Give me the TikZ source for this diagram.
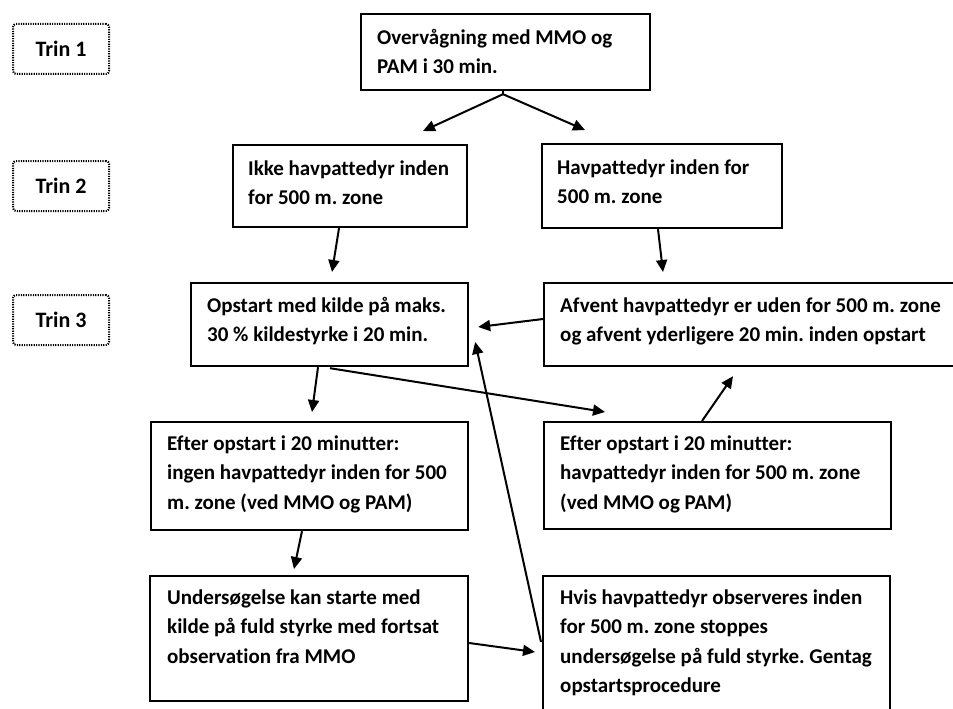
\documentclass[tikz,border=0pt]{standalone}
\usepackage{fontspec}
\setmainfont{Carlito}[Ligatures={NoCommon}]
\frenchspacing
\usetikzlibrary{arrows.meta,calc}
\tikzset{
  box/.style={draw, line width=2.2pt, rectangle, inner sep=0pt, anchor=north west},
  trinbox/.style={draw, line width=2pt, rectangle, rounded corners=3pt, inner sep=0pt,
    anchor=north west, dash pattern=on 1.2pt off 1.2pt, minimum width=96pt, minimum height=50pt,
    font=\fontsize{22}{24}\selectfont\bfseries},
  txt/.style={align=left, inner sep=0pt, anchor=north west,
    font=\fontsize{21}{29.5}\selectfont\bfseries},
  arr/.style={line width=2pt, -{Triangle[length=12pt,width=11pt]}}
}
\newcommand{\fs}{\rule{0pt}{17pt}}
\begin{document}
\begin{tikzpicture}[x=1pt,y=-1pt]
\useasboundingbox (0,0) rectangle (953,709);
\fill[white] (0,0) rectangle (953,709);
\clip (0,0) rectangle (953,709);

% Trin labels
\node[trinbox] (t1) at (12,23) {Trin 1\hspace{9pt}};
\node[trinbox] (t2) at (12,160) {Trin 2\hspace{9pt}};
\node[trinbox] (t3) at (12,294) {Trin 3\hspace{9pt}};

% boxes
\node[box, minimum width=289pt, minimum height=76pt] (top) at (360,13) {};
\node[txt] (topt) at ($(top.north west)+(17,14)$) {\fs Overvågning med MMO og\\PAM i 30 min.};

\node[box, minimum width=234pt, minimum height=82pt] (ikke) at (232,144) {};
\node[txt] (ikket) at ($(ikke.north west)+(16,14)$) {\fs Ikke havpattedyr inden\\for 500 m. zone};

\node[box, minimum width=240pt, minimum height=84pt] (hav) at (541,143) {};
\node[txt] (havt) at ($(hav.north west)+(16,14)$) {\fs Havpattedyr inden for\\500 m. zone};

\node[box, minimum width=277pt, minimum height=83pt] (opst) at (190,282) {};
\node[txt] (opstt) at ($(opst.north west)+(17,13)$) {\fs Opstart med kilde på maks.\\30 \% kildestyrke i 20 min.};

\node[box, minimum width=415pt, minimum height=83pt] (afv) at (543,282) {};
\node[txt] (afvt) at ($(afv.north west)+(17,13)$) {\fs Afvent havpattedyr er uden for 500 m. zone\\og afvent yderligere 20 min. inden opstart};

\node[box, minimum width=317pt, minimum height=108pt] (efl) at (150,421) {};
\node[txt] (eflt) at ($(efl.north west)+(17,12)$) {\fs Efter opstart i 20 minutter:\\ingen havpattedyr inden for 500\\m. zone (ved MMO og PAM)};

\node[box, minimum width=347pt, minimum height=107pt] (efr) at (543,421) {};
\node[txt] (efrt) at ($(efr.north west)+(17,12)$) {\fs Efter opstart i 20 minutter:\\havpattedyr inden for 500 m. zone\\(ved MMO og PAM)};

\node[box, minimum width=318pt, minimum height=125pt] (und) at (149,575) {};
\node[txt] (undt) at ($(und.north west)+(18,12)$) {\fs Undersøgelse kan starte med\\kilde på fuld styrke med fortsat\\observation fra MMO};

\node[box, minimum width=347pt, minimum height=145pt] (hvis) at (542,575) {};
\node[txt] (hvist) at ($(hvis.north west)+(18,12)$) {\fs Hvis havpattedyr observeres inden\\for 500 m. zone stoppes\\undersøgelse på fuld styrke. Gentag\\opstartsprocedure};

% connectors
\coordinate (apex) at ($(top.south west)+(143,3)$);
\coordinate (tipA) at ($(ikke.north west)+(191,-13)$);
\coordinate (tipB) at ($(hav.north west)+(44,-13)$);
\draw[line width=2pt] ($(top.south west)+(143,0)$) -- (apex);
\draw[arr] (apex) -- (tipA);
\draw[arr] (apex) -- (tipB);

\draw[arr] ($(ikke.south west)+(107,0)$) -- ($(opst.north west)+(142,-10)$);
\draw[arr] ($(hav.south west)+(117,0)$) -- ($(afv.north west)+(120,-10)$);
\draw[arr] ($(afv.north west)+(0,37)$) -- ($(opst.north east)+(9,45)$);
\draw[arr] ($(opst.south west)+(128,0)$) -- ($(efl.north west)+(162,-9)$);
\draw[arr] ($(opst.south west)+(140,1)$) -- ($(efr.north west)+(62,-9)$);
\draw[arr] ($(efr.north west)+(159,0)$) -- ($(afv.south west)+(190,9)$);
\draw[arr] ($(efl.south west)+(152,0)$) -- ($(und.north west)+(145,-6)$);
\draw[arr] ($(und.north east)+(0,68)$) -- ($(hvis.north west)+(-7,77)$);
\draw[arr] ($(hvis.north west)+(-1,67)$) -- ($(opst.north east)+(6,60)$);
\end{tikzpicture}
\end{document}
